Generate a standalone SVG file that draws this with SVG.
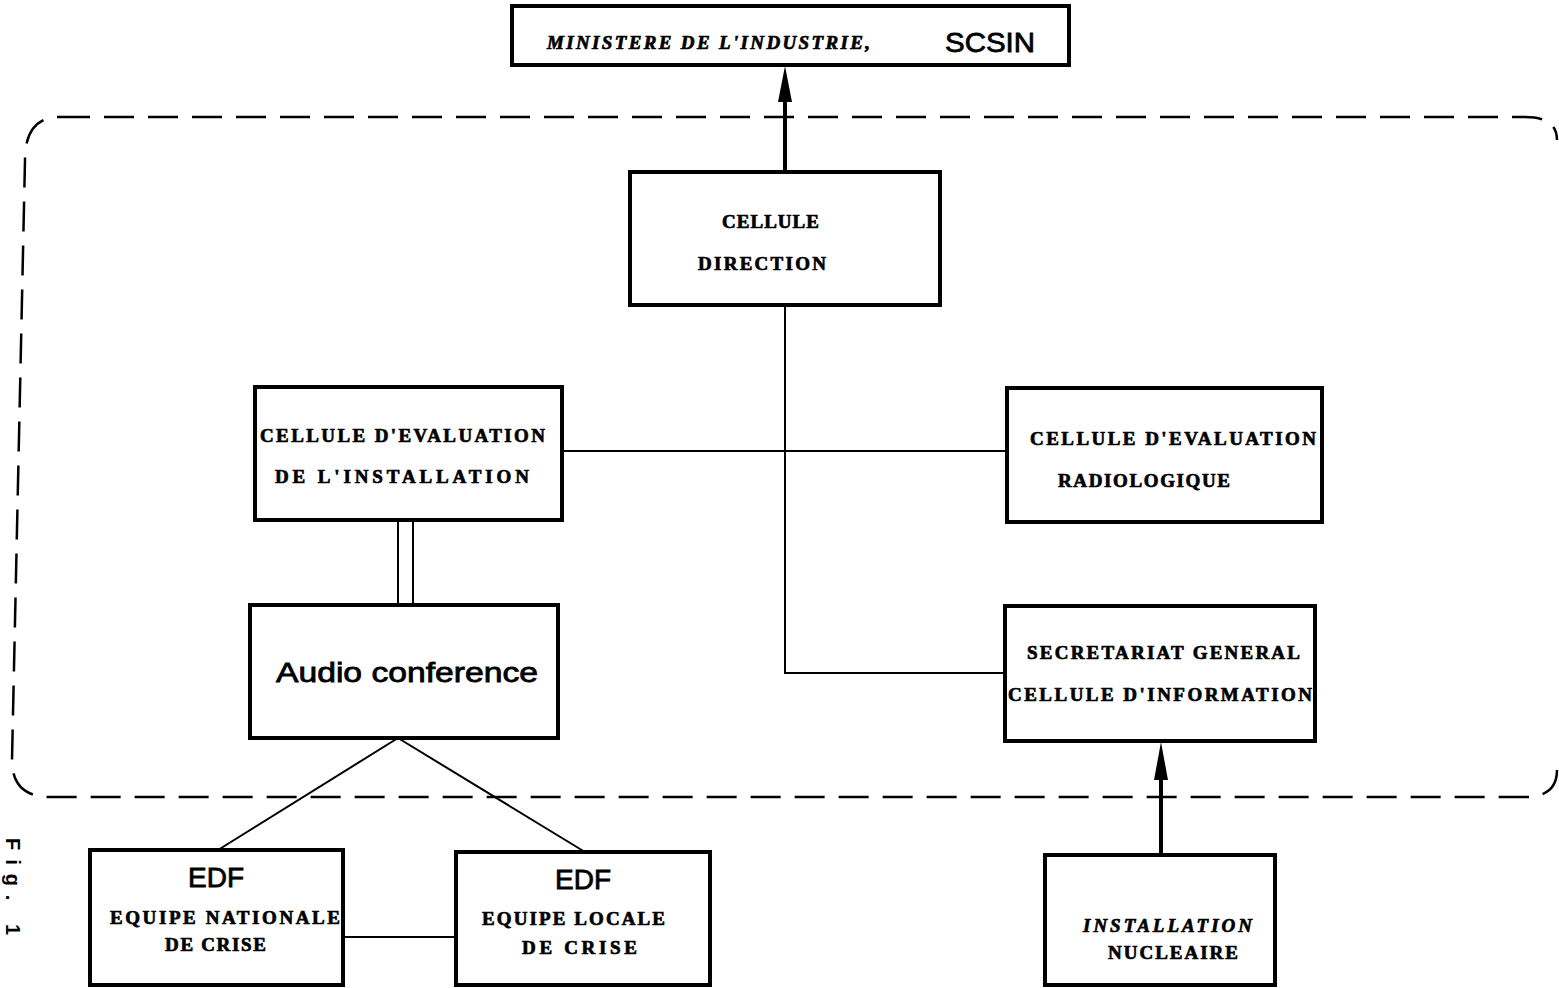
<svg xmlns="http://www.w3.org/2000/svg" width="1559" height="988" viewBox="0 0 1559 988">
<style>
.box{fill:#fff;stroke:#000;stroke-width:4}
.t{font-family:"Liberation Serif","DejaVu Serif",serif;font-weight:bold;font-size:19px;fill:#000;stroke:#000;stroke-width:0.7}
.ti{font-family:"Liberation Serif","DejaVu Serif",serif;font-weight:bold;font-style:italic;font-size:19px;fill:#000;stroke:#000;stroke-width:0.7}
.s{font-family:"Liberation Sans","DejaVu Sans",sans-serif;font-size:28px;fill:#000;stroke:#000;stroke-width:0.8}
.ln{fill:none;stroke:#000;stroke-width:2}
.thick{fill:none;stroke:#000;stroke-width:4}
.ah{fill:#000;stroke:none}
</style>
<rect width="1559" height="988" fill="#fff"/>
<path d="M60,117 H1525 Q1557,117 1557,140 M1557,770 Q1557,797 1525,797 H50 Q12,797 12,760 L25,160 Q25,117 60,117" fill="none" stroke="#000" stroke-width="2.5" stroke-dasharray="30,14"/>
<g id="connectors">
<line class="thick" x1="785" y1="172" x2="785" y2="90"/>
<path class="ah" d="M785,66 L792,102 L778,102 Z"/>
<polyline class="ln" points="785,305 785,673 1005,673"/>
<line class="ln" x1="562" y1="451" x2="1007" y2="451"/>
<line class="ln" x1="398" y1="520" x2="398" y2="605" stroke-width="3"/>
<line class="ln" x1="413" y1="520" x2="413" y2="605" stroke-width="3"/>
<line class="ln" x1="398" y1="738" x2="218" y2="850"/>
<line class="ln" x1="398" y1="738" x2="585" y2="852"/>
<line class="ln" x1="343" y1="937" x2="456" y2="937"/>
<line class="thick" x1="1161" y1="855" x2="1161" y2="765"/>
<path class="ah" d="M1161,742 L1168,780 L1154,780 Z"/>
</g>
<g id="ministere">
<rect class="box" x="512" y="6" width="557" height="59"/>
<text class="ti" x="547" y="49" textLength="323" lengthAdjust="spacing">MINISTERE DE L'INDUSTRIE,</text>
<text class="s" x="945" y="52" textLength="90" lengthAdjust="spacingAndGlyphs">SCSIN</text>
</g>
<g id="direction">
<rect class="box" x="630" y="172" width="310" height="133"/>
<text class="t" x="722" y="228" textLength="97" lengthAdjust="spacing">CELLULE</text>
<text class="t" x="698" y="270" textLength="128" lengthAdjust="spacing">DIRECTION</text>
</g>
<g id="eval-installation">
<rect class="box" x="255" y="387" width="307" height="133"/>
<text class="t" x="260" y="442" textLength="285" lengthAdjust="spacing">CELLULE D'EVALUATION</text>
<text class="t" x="275" y="483" textLength="254" lengthAdjust="spacing">DE L'INSTALLATION</text>
</g>
<g id="eval-radiologique">
<rect class="box" x="1007" y="388" width="315" height="134"/>
<text class="t" x="1030" y="445" textLength="286" lengthAdjust="spacing">CELLULE D'EVALUATION</text>
<text class="t" x="1058" y="487" textLength="172" lengthAdjust="spacing">RADIOLOGIQUE</text>
</g>
<g id="audio">
<rect class="box" x="250" y="605" width="308" height="133"/>
<text class="s" x="276" y="682" textLength="262" lengthAdjust="spacingAndGlyphs">Audio conference</text>
</g>
<g id="secretariat">
<rect class="box" x="1005" y="606" width="310" height="135"/>
<text class="t" x="1027" y="659" textLength="273" lengthAdjust="spacing">SECRETARIAT GENERAL</text>
<text class="t" x="1008" y="701" textLength="304" lengthAdjust="spacing">CELLULE D'INFORMATION</text>
</g>
<g id="edf-nationale">
<rect class="box" x="90" y="850" width="253" height="135"/>
<text class="s" x="216" y="887" text-anchor="middle">EDF</text>
<text class="t" x="110" y="924" textLength="230" lengthAdjust="spacing">EQUIPE NATIONALE</text>
<text class="t" x="165" y="951" textLength="101" lengthAdjust="spacing">DE CRISE</text>
</g>
<g id="edf-locale">
<rect class="box" x="456" y="852" width="254" height="133"/>
<text class="s" x="583" y="889" text-anchor="middle">EDF</text>
<text class="t" x="482" y="925" textLength="183" lengthAdjust="spacing">EQUIPE LOCALE</text>
<text class="t" x="522" y="954" textLength="115" lengthAdjust="spacing">DE CRISE</text>
</g>
<g id="installation">
<rect class="box" x="1045" y="855" width="230" height="130"/>
<text class="ti" x="1083" y="932" textLength="169" lengthAdjust="spacing">INSTALLATION</text>
<text class="t" x="1108" y="959" textLength="130" lengthAdjust="spacing">NUCLEAIRE</text>
</g>
<text transform="translate(6,838) rotate(90)" font-family="Liberation Sans, sans-serif" font-weight="bold" font-size="20" fill="#000" textLength="97" lengthAdjust="spacing">Fig. 1</text>
</svg>
